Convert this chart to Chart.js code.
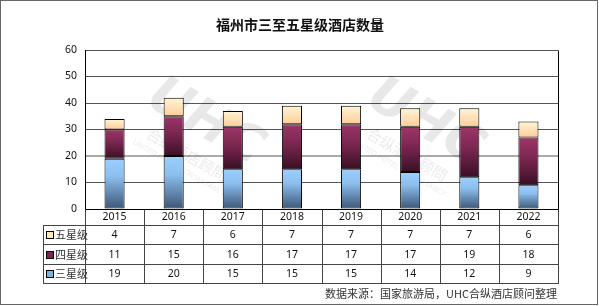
<!DOCTYPE html>
<html>
<head>
<meta charset="utf-8">
<script src="https://cdn.jsdelivr.net/npm/chart.js@4"></script>
<style>
  html, body { margin: 0; padding: 0; background: #fff; }
  #wrap { width: 599px; height: 306px; position: relative; }
</style>
</head>
<body>
<div id="wrap"><canvas id="hotelChart"></canvas></div>
<script>
// chart data
const years = ['2015', '2016', '2017', '2018', '2019', '2020', '2021', '2022'];
const threeStar = [19, 20, 15, 15, 15, 14, 12, 9];
const fourStar = [11, 15, 16, 17, 17, 17, 19, 18];
const fiveStar = [4, 7, 6, 7, 7, 7, 7, 6];
const yTicks = [0, 10, 20, 30, 40, 50, 60];

const chartTitle = '福州市三至五星级酒店数量';
const sourceNote = '数据来源：国家旅游局，UHC合纵酒店顾问整理';

const cjkFont = '"Noto Sans CJK SC", "Noto Sans", sans-serif';
const numFont = '"Noto Sans", "DejaVu Sans", sans-serif';

// gradient stops per series (top -> bottom of each segment)
const gradients = [
    [[0, '#9bcfff'], [0.35, '#8cbfee'], [1, '#3c5574']],   // 三星级
    [[0, '#9c3669'], [0.4, '#7d2852'], [1, '#3a0f24']],   // 四星级
    [[0, '#fff6d6'], [1, '#ffcc99']]                      // 五星级
];
const swatchColors = ['#7fb2e0', '#7a2750', '#ffe9b8'];

function segmentGradient(context) {
    const chart = context.chart;
    const y = chart.scales.y;
    const di = context.datasetIndex;
    if (!y || !chart.chartArea || context.type !== 'data') return swatchColors[di];
    let start = 0;
    for (let k = 0; k < di; k++) start += chart.data.datasets[k].data[context.dataIndex];
    const end = start + chart.data.datasets[di].data[context.dataIndex];
    const top = y.getPixelForValue(end);
    const bottom = y.getPixelForValue(start);
    if (!isFinite(top) || !isFinite(bottom) || top === bottom) return swatchColors[di];
    const g = chart.ctx.createLinearGradient(0, top, 0, bottom);
    gradients[di].forEach(s => g.addColorStop(s[0], s[1]));
    return g;
}

// faint logo watermark behind the bars
const watermarkPlugin = {
    id: 'watermark',
    beforeDatasetsDraw(chart) {
        const ctx = chart.ctx;
        [[200, 132], [420, 132]].forEach(([cx, cy]) => {
            ctx.save();
            ctx.translate(cx, cy);
            ctx.rotate(Math.PI / 6);
            ctx.fillStyle = 'rgba(0,0,0,0.09)';
            ctx.textAlign = 'center';
            ctx.textBaseline = 'middle';
            ctx.font = 'italic bold 52px "DejaVu Sans", sans-serif';
            ctx.fillText('UHC', 0, -10);
            ctx.font = '15px ' + cjkFont;
            ctx.fillText('合纵酒店顾問', 0, 26);
            ctx.font = 'italic 7px "DejaVu Sans", sans-serif';
            ctx.fillText('UNITED HOTEL CONSULTANCY', 0, 42);
            ctx.restore();
        });
    }
};

// title, table, source text, frame
const decorPlugin = {
    id: 'decor',
    afterDraw(chart) {
        const ctx = chart.ctx;
        const area = chart.chartArea;
        const xs = chart.scales.x;
        const colW = (area.right - area.left) / years.length;
        const px = v => Math.round(v) + 0.5;

        ctx.save();

        // right border of plot
        ctx.strokeStyle = '#000';
        ctx.lineWidth = 1;
        ctx.beginPath();
        ctx.moveTo(px(area.right), px(area.top));
        ctx.lineTo(px(area.right), px(area.bottom));
        ctx.stroke();

        // title
        ctx.fillStyle = '#111';
        ctx.font = 'bold 14px ' + cjkFont;
        ctx.textAlign = 'center';
        ctx.textBaseline = 'middle';
        ctx.fillText(chartTitle, 300, 25);

        // data table
        const legendLeft = 43;
        const headTop = area.bottom;
        const headBottom = headTop + 16;
        const rowH = 19.4;
        const rows = [
            { name: '五星级', data: fiveStar, idx: 2 },
            { name: '四星级', data: fourStar, idx: 1 },
            { name: '三星级', data: threeStar, idx: 0 }
        ];
        const tableBottom = headBottom + rowH * rows.length;

        ctx.strokeStyle = '#444';
        ctx.beginPath();
        // horizontal lines
        ctx.moveTo(legendLeft, px(headBottom));
        ctx.lineTo(area.right + 1, px(headBottom));
        rows.forEach((r, i) => {
            const yy = px(headBottom + rowH * (i + 1));
            ctx.moveTo(legendLeft, yy);
            ctx.lineTo(area.right + 1, yy);
        });
        // vertical lines
        ctx.moveTo(px(legendLeft), px(headBottom));
        ctx.lineTo(px(legendLeft), px(tableBottom));
        for (let i = 0; i <= years.length; i++) {
            const xx = px(area.left + colW * i);
            ctx.moveTo(xx, px(headTop));
            ctx.lineTo(xx, px(tableBottom));
        }
        ctx.stroke();

        // year header
        ctx.fillStyle = '#111';
        ctx.font = '10.5px ' + numFont;
        ctx.textAlign = 'center';
        ctx.textBaseline = 'middle';
        years.forEach((yr, i) => {
            ctx.fillText(yr, xs.getPixelForValue(i), headTop + 8.5);
        });

        // rows
        rows.forEach((r, ri) => {
            const cy = headBottom + rowH * ri + rowH / 2 + 0.5;
            // swatch
            const sx = 46.5, sy = Math.round(cy - 4) + 0.5;
            ctx.fillStyle = swatchColors[r.idx];
            ctx.fillRect(sx, sy, 7, 7);
            ctx.strokeStyle = '#000';
            ctx.strokeRect(sx, sy, 7, 7);
            ctx.fillStyle = '#333';
            ctx.font = '11px ' + cjkFont;
            ctx.textAlign = 'left';
            ctx.fillText(r.name, 55, cy);
            ctx.fillStyle = '#111';
            ctx.font = '10.5px ' + numFont;
            ctx.textAlign = 'center';
            r.data.forEach((v, i) => {
                ctx.fillText(String(v), xs.getPixelForValue(i), cy);
            });
        });

        // source note
        ctx.fillStyle = '#333';
        ctx.font = '11px ' + cjkFont;
        ctx.textAlign = 'right';
        ctx.fillText(sourceNote, 557, 294);

        // outer frame
        ctx.strokeStyle = '#666';
        ctx.strokeRect(0.5, 0.5, 597, 304);

        ctx.restore();
    }
};

const hotelChart = new Chart(document.getElementById('hotelChart').getContext('2d'), {
    type: 'bar',
    data: {
        labels: years,
        datasets: [
            { label: '三星级', data: threeStar },
            { label: '四星级', data: fourStar },
            { label: '五星级', data: fiveStar }
        ].map(ds => Object.assign(ds, {
            backgroundColor: segmentGradient,
            borderColor: '#000',
            borderWidth: 1,
            borderSkipped: false,
            categoryPercentage: 0.34,
            barPercentage: 1
        }))
    },
    options: {
        responsive: true,
        maintainAspectRatio: false,
        animation: false,
        layout: {
            padding: { top: 50, right: 41, bottom: 97, left: 0 }
        },
        plugins: {
            legend: { display: false },
            title: { display: false },
            tooltip: { enabled: true }
        },
        scales: {
            x: {
                stacked: true,
                ticks: { display: false },
                grid: { display: false },
                border: { display: true, color: '#000' },
                afterFit(scale) { scale.height = 0; }
            },
            y: {
                stacked: true,
                min: yTicks[0],
                max: yTicks[yTicks.length - 1],
                afterBuildTicks(scale) {
                    scale.ticks = yTicks.map(v => ({ value: v }));
                },
                ticks: {
                    color: '#111',
                    padding: 8,
                    font: { family: numFont, size: 10.5 }
                },
                grid: {
                    color: ctx => ctx.tick && ctx.tick.value === 20 ? '#aaa' : '#555',
                    lineWidth: ctx => ctx.tick && ctx.tick.value === 20 ? 2 : 1,
                    drawTicks: false
                },
                border: { display: true, color: '#000' },
                afterFit(scale) { scale.width = 85; }
            }
        }
    },
    plugins: [watermarkPlugin, decorPlugin]
});
</script>
</body>
</html>
